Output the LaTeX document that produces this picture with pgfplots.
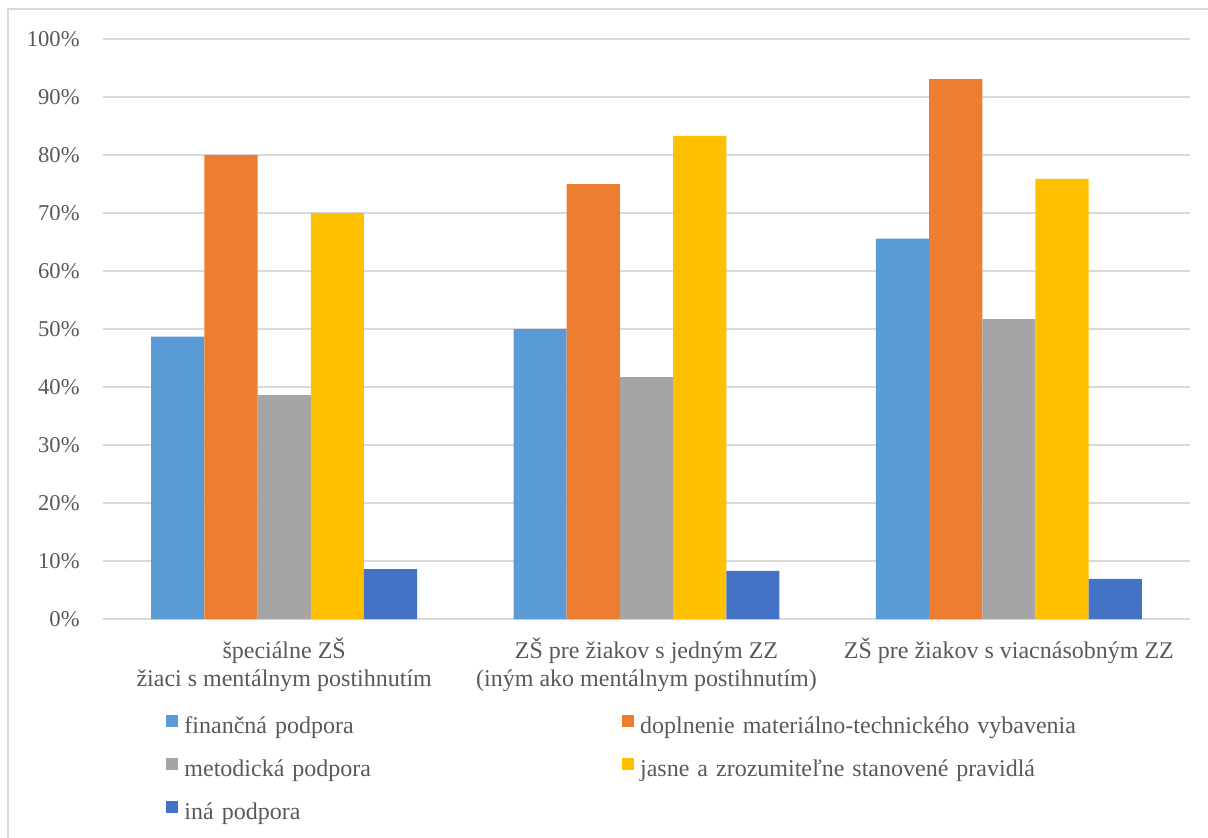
\documentclass[border=0pt]{standalone}
\usepackage{pgfplots}
\pgfplotsset{compat=1.18}
\usepackage{fontspec}
\setmainfont{Liberation Serif}
\definecolor{c1}{HTML}{5B9BD5}
\definecolor{c2}{HTML}{ED7D31}
\definecolor{c3}{HTML}{A5A5A5}
\definecolor{c4}{HTML}{FFC000}
\definecolor{c5}{HTML}{4472C4}
\definecolor{gridc}{HTML}{D9D9D9}
\definecolor{txt}{HTML}{595959}
\begin{document}
\begin{tikzpicture}
\fontsize{12}{14}\selectfont
\begin{axis}[
  at={(0,0)}, anchor=south west,
  scale only axis, width=543.5pt, height=290pt,
  xmin=-0.5, xmax=2.5, ymin=0, ymax=100,
  ybar=0pt, bar width=0.1468,
  axis line style={draw=none},
  major tick length=0pt,
  ymajorgrids, grid style={gridc, line width=0.65pt},
  ytick={0,10,...,100},
  yticklabel={\pgfmathprintnumber{\tick}\%},
  /pgf/number format/assume math mode=true,
  yticklabel style={anchor=east, inner sep=0pt, xshift=-11.5pt, text=txt, font=\fontsize{11.3}{13}\selectfont},
  xtick={0,1,2},
  xticklabels={{špeciálne ZŠ\\žiaci s mentálnym postihnutím},{ZŠ pre žiakov s jedným ZZ\\(iným ako mentálnym postihnutím)},{ZŠ pre žiakov s viacnásobným ZZ}},
  xticklabel style={anchor=north, align=center, inner sep=0pt, yshift=-9pt, text=txt, font=\fontsize{12}{14}\selectfont},
  legend columns=2,
  legend style={at={(axis description cs:0.058,-0.164)}, anchor=north west, draw=none, fill=none, inner sep=0pt,
    font=\fontsize{12}{14}\selectfont, text=txt,
    nodes={inner xsep=3pt, inner ysep=0pt, text width=215.85pt, align=left, text height=8.5pt, text depth=2.5pt, anchor=west},
    row sep=9.5pt, column sep=0pt},
  legend cell align=left,
  legend image code/.code={\fill[#1,draw=none] (0pt,0.5pt) rectangle (6pt,6.5pt);},
]
\addplot[fill=c1, draw=none, bar shift=-0.2936] coordinates {(0,48.7) (1,50.0) (2,65.6)};
\addplot[fill=c2, draw=none, bar shift=-0.1468] coordinates {(0,80.0) (1,75.0) (2,93.1)};
\addplot[fill=c3, draw=none, bar shift=0] coordinates {(0,38.6) (1,41.7) (2,51.7)};
\addplot[fill=c4, draw=none, bar shift=0.1468] coordinates {(0,70.0) (1,83.3) (2,75.9)};
\addplot[fill=c5, draw=none, bar shift=0.2936] coordinates {(0,8.6) (1,8.3) (2,6.9)};
\legend{finančná podpora, \mbox{doplnenie materiálno-technického vybavenia}, metodická podpora, \mbox{jasne a zrozumiteľne stanovené pravidlá}, iná podpora}
\end{axis}
\draw[gridc, line width=0.75pt] (-47.5pt,-140pt) rectangle (600pt,305pt);
\pgfresetboundingbox
\useasboundingbox (-51.5pt,-109pt) rectangle (552.5pt,309.5pt);
\end{tikzpicture}
\end{document}
